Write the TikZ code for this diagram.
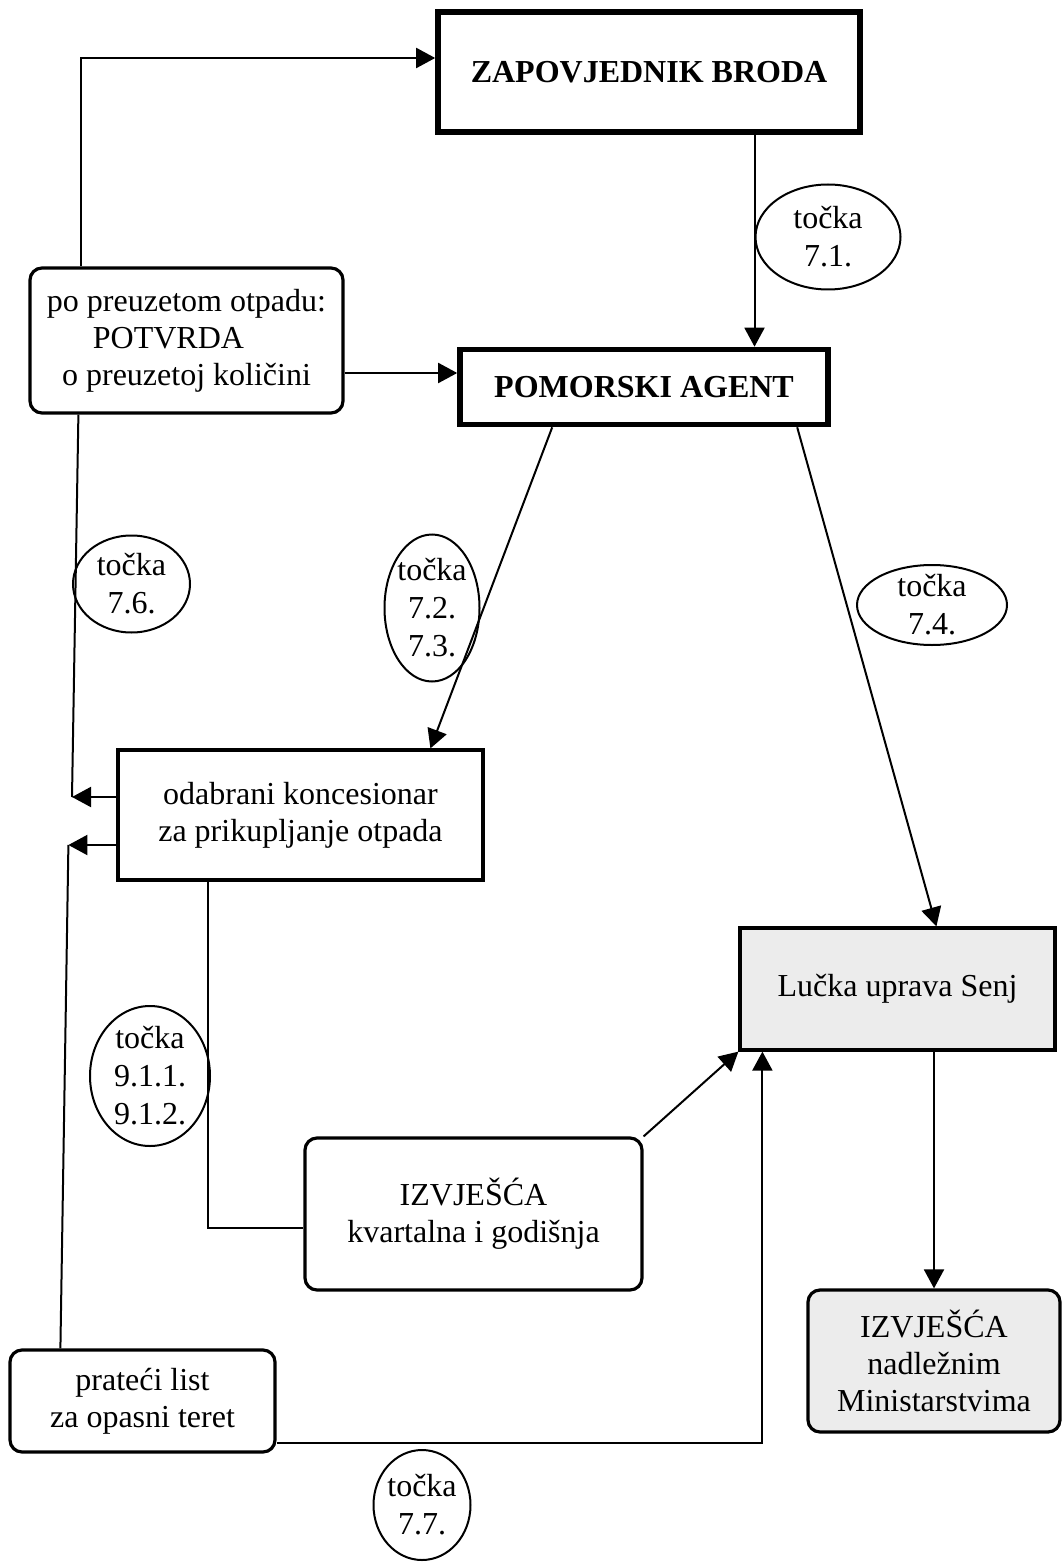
\documentclass[tikz,border=0pt]{standalone}
\usepackage{fontspec}
\setmainfont{Liberation Serif}
\usetikzlibrary{arrows.meta,positioning,shapes.geometric}

\begin{document}
\begin{tikzpicture}[x=0.5pt,y=-0.5pt,>={Triangle[length=9.5pt,width=10pt]},
    font=\fontsize{16}{18.5}\selectfont,
    box/.style={draw,line width=1.6pt,align=center,inner sep=2pt},
    mainbox/.style={box,line width=2.8pt,font=\fontsize{16}{18.5}\selectfont\bfseries},
    rbox/.style={box,rounded corners=6pt},
    gbox/.style={fill=gray!15},
    tocka/.style={ellipse,draw,line width=1pt,inner sep=-20pt,align=center,
      font=\fontsize{16}{19}\selectfont},
    link/.style={line width=1pt}]
\useasboundingbox (0,0) rectangle (1062,1567);

\node[mainbox,minimum width=211pt,minimum height=60pt] (zap) at (649,72) {ZAPOVJEDNIK BRODA};
\node[rbox,minimum width=156.5pt,minimum height=72.5pt] (potvrda) at (186.5,340.5)
  {po preuzetom otpadu:\\\mbox{POTVRDA\hspace{18pt}}\\o preuzetoj količini};
\node[mainbox,minimum width=184pt,minimum height=37.5pt] (agent) at (644,387) {POMORSKI AGENT};
\node[box,minimum width=182.5pt,minimum height=65pt] (konc) at (300.5,815)
  {odabrani koncesionar\\za prikupljanje otpada};
\node[box,gbox,minimum width=157.5pt,minimum height=61pt] (luka) at (897.5,989) {Lučka uprava Senj};
\node[rbox,minimum width=168.5pt,minimum height=76pt] (izvk) at (473.5,1214)
  {IZVJEŠĆA\\kvartalna i godišnja};
\node[rbox,gbox,minimum width=126pt,minimum height=71pt] (izvm) at (934,1361)
  {IZVJEŠĆA\\nadležnim\\Ministarstvima};
\node[rbox,minimum width=132.5pt,minimum height=51pt] (pratlist) at (142.5,1401)
  {prateći list\\za opasni teret};

\node[tocka,minimum width=72.5pt,minimum height=52.5pt] (t71) at (828,237) {točka\\7.1.};
\node[tocka,minimum width=58.5pt,minimum height=48.5pt] (t76) at (131.5,584) {točka\\7.6.};
\node[tocka,minimum width=47.5pt,minimum height=73.5pt] (t723) at (432,608) {točka\\7.2.\\7.3.};
\node[tocka,minimum width=75pt,minimum height=40pt] (t74) at (932,605) {točka\\7.4.};
\node[tocka,minimum width=60pt,minimum height=70pt] (t91) at (150,1076) {točka\\9.1.1.\\9.1.2.};
\node[tocka,minimum width=48.5pt,minimum height=55pt] (t77) at (422,1505) {točka\\7.7.};

\coordinate (agin) at ([yshift=7pt]agent.west);
\coordinate (kup) at ([yshift=9pt]konc.west);
\coordinate (kdn) at ([yshift=-15pt]konc.west);
\coordinate (kdnend) at ([xshift=-24pt]kdn);

\draw[link,->] ([xshift=26.5pt]potvrda.north west) |- ([yshift=7pt]zap.west);
\draw[link,->] (zap.south -| t71.west) -- (agent.north -| t71.west);
\draw[link,->] (agin -| potvrda.east) -- (agin);
\draw[link,->] (kup) -- (kup -| t76.west);
\draw[link] ([xshift=25pt]potvrda.south west) -- (kup -| t76.west);
\draw[link,->] (kdn) -- (kdnend);
\draw[link] ([xshift=26pt]pratlist.north west) -- (kdnend);
\draw[link,->] ([xshift=47.5pt]agent.south west) -- ([xshift=157pt]konc.north west);
\draw[link,->] ([xshift=170pt]agent.south west) -- ([xshift=99pt]luka.north west);
\draw[link] ([xshift=46pt]konc.south west) |- ([yshift=-7pt]izvk.west);
\draw[link,->] (izvk.north east) -- (luka.south west);
\draw[link,->] (luka.south -| izvm.north) -- (izvm.north);
\draw[link,->] ([yshift=-21pt]pratlist.east) -| ([xshift=12pt]luka.south west);
\end{tikzpicture}
\end{document}
